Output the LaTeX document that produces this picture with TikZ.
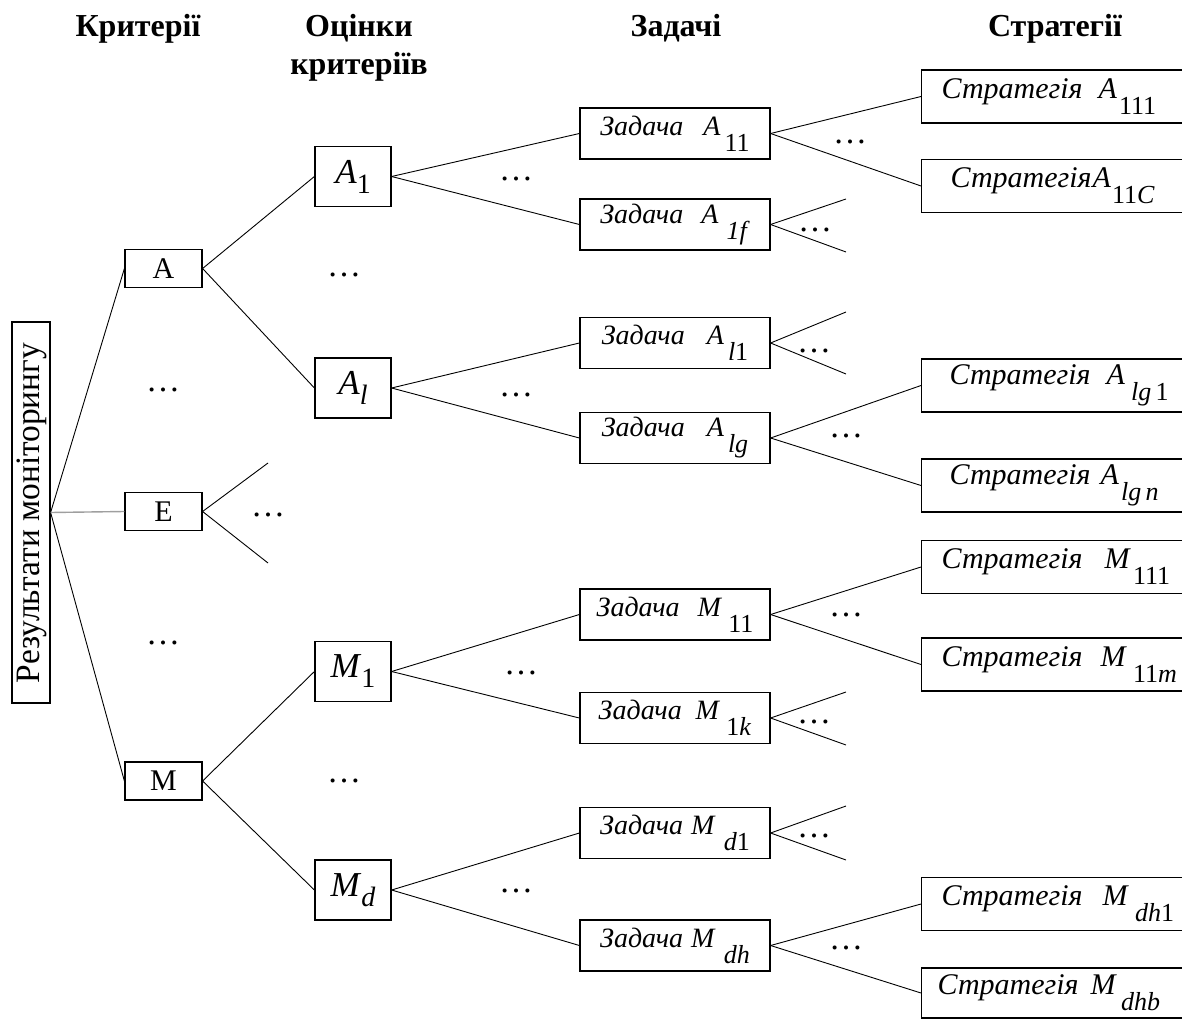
\documentclass[tikz,border=0pt]{standalone}
\usepackage{fontspec}
\setmainfont{Liberation Serif}
\newcommand{\fsz}[1]{\fontsize{#1}{#1}\selectfont}
\newcommand{\sbs}[1]{\raisebox{-16pt}{\fsz{26}#1}}
\newcommand{\sbm}[1]{\raisebox{-10pt}{\fsz{28}#1}}
\tikzset{
  bx/.style={draw, line width=1.2pt, inner sep=0pt, fill=white},
  crit/.style={bx, minimum width=77pt, minimum height=38pt, font=\fsz{30}},
  est/.style={bx, minimum width=76pt, minimum height=60pt, font=\fsz{35}},
  task/.style={bx, minimum width=190pt, minimum height=51pt, font=\fsz{28}},
  strat/.style={bx, anchor=west, text width=280pt, inner xsep=20pt, minimum height=53pt, align=left, font=\fsz{30}},
  head/.style={font=\fsz{32}\bfseries, anchor=base, align=center},
  dts/.style={font=\fsz{34}, anchor=base, inner sep=0pt},
  lnk/.style={line width=0.9pt},
}
\begin{document}
\begin{tikzpicture}[x=1pt,y=-1pt]
\useasboundingbox (0,0) rectangle (1182,1019);
% headings
\node[head] (h1) at (138,37) {Критерії};
\node[head] (h2) at (359,75) {Оцінки\\[6pt]критеріїв};
\node[head] (h3) at (676,37) {Задачі};
\node[head] (h4) at (1055,37) {Стратегії};
% root
\node[bx, minimum width=38pt, minimum height=381pt] (root) at (31,512.5) {};
\node[rotate=90, inner sep=0pt] (roottext) at (32,513) {\fsz{33}\resizebox*{340pt}{30pt}{Результати моніторингу}};
% criteria
\node[crit] (A) at (163.5,268.5) {A};
\node[crit] (E) at (163.5,511.5) {E};
\node[crit] (M) at (163.5,781) {M};
% estimates
\node[est] (A1) at (353,176.5) {\textit{A}\sbm{1}};
\node[est] (Al) at (353,388) {\textit{A}\sbm{\textit{l}}};
\node[est] (M1) at (353,671.5) {\textit{M}\sbm{1}};
\node[est] (Md) at (353,890) {\textit{M}\sbm{\textit{d}}};
% tasks
\node[task] (tA11) at (675,133.5) {\textit{Задача}\hspace{20pt}\textit{A}\hspace{4pt}\sbs{11}};
\node[task] (tA1f) at (675,224.5) {\textit{Задача}\hspace{18pt}\textit{A}\hspace{8pt}\sbs{\textit{1f}}};
\node[task] (tAl1) at (675,343) {\textit{Задача}\hspace{22pt}\textit{A}\hspace{4pt}\sbs{\textit{l}1}};
\node[task] (tAlg) at (675,438) {\textit{Задача}\hspace{22pt}\textit{A}\hspace{4pt}\sbs{\textit{lg}}};
\node[task] (tM11) at (675,614.5) {\textit{Задача}\hspace{18pt}\textit{M}\hspace{6pt}\sbs{11}};
\node[task] (tM1k) at (675,718) {\textit{Задача}\hspace{14pt}\textit{M}\hspace{6pt}\sbs{1\textit{k}}};
\node[task] (tMd1) at (675,833) {\textit{Задача}\hspace{8pt}\textit{M}\hspace{8pt}\sbs{\textit{d}1}};
\node[task] (tMdh) at (675,945.5) {\textit{Задача}\hspace{8pt}\textit{M}\hspace{8pt}\sbs{\textit{dh}}};
% strategies
\node[strat] (sA111) at (921,96.5) {\textit{Стратегія}\hspace{16pt}\textit{A}\hspace{2pt}\sbs{111}};
\node[strat] (sA11C) at (921,186) {\hspace{9pt}\textit{Стратегія}\hspace{1pt}\textit{A}\hspace{1pt}\sbs{11\textit{C}}};
\node[strat] (sAlg1) at (921,385.5) {\hspace{8pt}\textit{Стратегія}\hspace{16pt}\textit{A}\hspace{6pt}\sbs{\textit{lg}\,1}};
\node[strat] (sAlgn) at (921,485.5) {\hspace{8pt}\textit{Стратегія}\hspace{10pt}\textit{A}\hspace{2pt}\sbs{\textit{lg\,n}}};
\node[strat] (sM111) at (921,567) {\textit{Стратегія}\hspace{22pt}\textit{M}\hspace{2pt}\sbs{111}};
\node[strat] (sM11m) at (921,664.5) {\textit{Стратегія}\hspace{18pt}\textit{M}\hspace{6pt}\sbs{11\textit{m}}};
\node[strat] (sMdh1) at (921,904) {\textit{Стратегія}\hspace{20pt}\textit{M}\hspace{6pt}\sbs{\textit{dh}1}};
\node[strat, minimum height=50pt] (sMdhb) at (921,993) {\hspace{-4pt}\textit{Стратегія}\hspace{12pt}\textit{M}\hspace{4pt}\sbs{\textit{dhb}}};
% connectors
\draw[lnk] (root.east) -- (A.west);
\draw[lnk] (root.east) -- (M.west);
\draw[line width=1.4pt, gray!75] (root.east) -- (E.west);
\draw[lnk] (A.east) -- (A1.west);
\draw[lnk] (A.east) -- (Al.west);
\draw[lnk] (M.east) -- (M1.west);
\draw[lnk] (M.east) -- (Md.west);
\draw[lnk] (A1.east) -- (tA11.west);
\draw[lnk] (A1.east) -- (tA1f.west);
\draw[lnk] (Al.east) -- (tAl1.west);
\draw[lnk] (Al.east) -- (tAlg.west);
\draw[lnk] (M1.east) -- (tM11.west);
\draw[lnk] (M1.east) -- (tM1k.west);
\draw[lnk] (Md.east) -- (tMd1.west);
\draw[lnk] (Md.east) -- (tMdh.west);
\draw[lnk] (tA11.east) -- (sA111.west);
\draw[lnk] (tA11.east) -- (sA11C.west);
\draw[lnk] (tAlg.east) -- (sAlg1.west);
\draw[lnk] (tAlg.east) -- (sAlgn.west);
\draw[lnk] (tM11.east) -- (sM111.west);
\draw[lnk] (tM11.east) -- (sM11m.west);
\draw[lnk] (tMdh.east) -- (sMdh1.west);
\draw[lnk] (tMdh.east) -- (sMdhb.west);
% open fans
\coordinate (e1) at (268,463);
\coordinate (e2) at (268,563);
\draw[lnk] (E.east) -- (e1);
\draw[lnk] (E.east) -- (e2);
\coordinate (f1) at (846,199);
\coordinate (f2) at (846,252);
\draw[lnk] (tA1f.east) -- (f1);
\draw[lnk] (tA1f.east) -- (f2);
\coordinate (g1) at (846,312);
\coordinate (g2) at (846,374);
\draw[lnk] (tAl1.east) -- (g1);
\draw[lnk] (tAl1.east) -- (g2);
\coordinate (k1) at (846,692);
\coordinate (k2) at (846,745);
\draw[lnk] (tM1k.east) -- (k1);
\draw[lnk] (tM1k.east) -- (k2);
\coordinate (d1) at (846,806);
\coordinate (d2) at (846,860);
\draw[lnk] (tMd1.east) -- (d1);
\draw[lnk] (tMd1.east) -- (d2);
% dots
\node[dts] (dc1) at (163,391) {…};
\node[dts] (dc2) at (163,644) {…};
\node[dts] (de) at (268,516) {…};
\node[dts] (da) at (344,276) {…};
\node[dts] (dm) at (344,782) {…};
\node[dts] (dt1) at (516,181) {…};
\node[dts] (dt2) at (516,396) {…};
\node[dts] (dt3) at (521,674) {…};
\node[dts] (dt4) at (516,892) {…};
\node[dts] (ds1) at (850,144) {…};
\node[dts] (ds2) at (846,437) {…};
\node[dts] (ds3) at (846,616) {…};
\node[dts] (ds4) at (846,949) {…};
\node[dts] (df1) at (815,231) {…};
\node[dts] (df2) at (814,352) {…};
\node[dts] (df3) at (814,723) {…};
\node[dts] (df4) at (814,837) {…};
\end{tikzpicture}
\end{document}
